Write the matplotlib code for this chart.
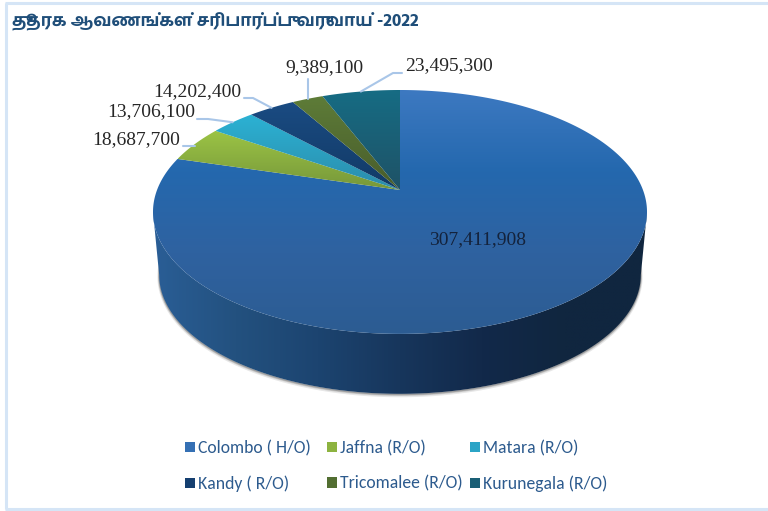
import numpy as np
import matplotlib
matplotlib.use("Agg")
import matplotlib.pyplot as plt
from matplotlib.colors import LinearSegmentedColormap
from matplotlib.path import Path
from matplotlib.patches import PathPatch, Rectangle

title = "தூதரக ஆவணங்கள் சரிபார்ப்பு வருவாய் -2022"
offices = ["Colombo ( H/O)", "Jaffna (R/O)", "Matara (R/O)",
           "Kandy ( R/O)", "Tricomalee (R/O)", "Kurunegala (R/O)"]
revenue = [307411908, 18687700, 13706100, 14202400, 9389100, 23495300]
value_labels = ["307,411,908", "18,687,700", "13,706,100",
                "14,202,400", "9,389,100", "23,495,300"]

slice_stops = [
    ["#3d79c1", "#2468ae", "#2f62a0", "#2c5c92"],
    ["#9cc445", "#76973a"],
    ["#2cb2d4", "#2b8cab"],
    ["#1a4b82", "#123a66"],
    ["#5e7c38", "#485c2b"],
    ["#166c84", "#1f5266"],
]
wall_stops = ["#2a5e96", "#23517f", "#1c4470", "#17365c", "#12294a", "#10263f", "#10263f"]
swatch_colors = ["#3570b4", "#8db340", "#2ba4c6", "#153f70", "#526e31", "#1a5f76"]

W, H = 768, 511
fig = plt.figure(figsize=(W / 100, H / 100), dpi=100, facecolor="white")
ax = fig.add_axes([0, 0, 1, 1])
ax.set_axis_off()
ax.set_xlim(0, W)
ax.set_ylim(H, 0)

CX, AY, RX, K, B = 400.0, 190.0, 247.0, 0.18, 118.0
A = np.sqrt(1 - K ** 2)
EY = AY + B * K / (1 - K ** 2)
DEPTH = 63.0
SHRINK = 0.975


def rim(deg):
    a = np.radians(deg)
    u, v = np.sin(a), np.cos(a)
    return CX + RX * A * u / (1 + K * v), AY - B * v / (1 + K * v)


def base(deg):
    x, y = rim(deg)
    return CX + SHRINK * (x - CX), EY + SHRINK * (y - EY) + DEPTH


def fill_gradient(verts, stops, horizontal=False, z=2):
    verts = np.asarray(verts)
    path = Path(np.vstack([verts, verts[:1]]), closed=True)
    patch = PathPatch(path, facecolor="none", edgecolor="none", zorder=z)
    ax.add_patch(patch)
    cmap = LinearSegmentedColormap.from_list("g", stops)
    ramp = np.linspace(0, 1, 256)
    ramp = ramp[None, :] if horizontal else ramp[:, None]
    x0, y0 = verts.min(axis=0)
    x1, y1 = verts.max(axis=0)
    im = ax.imshow(ramp, cmap=cmap, vmin=0, vmax=1, aspect="auto", zorder=z,
                   extent=(x0, x1, y1, y0), origin="upper", interpolation="bilinear")
    im.set_clip_path(patch)


values = np.asarray(revenue, dtype=float)
edges = np.concatenate([[0], np.cumsum(values) / values.sum() * 360])

# soft shadow below the base
vis = np.linspace(95, 265, 200)
bx, by = base(vis)
for off, lw, alpha in [(1.6, 2.6, 0.14), (1.0, 1.6, 0.22), (0.6, 1.0, 0.35)]:
    ax.plot(bx, by + off, color="#555555", lw=lw, alpha=alpha, zorder=1)

# side wall: only the part of each slice facing the viewer
front_lo = np.degrees(np.arccos(-K))
front_hi = 360 - front_lo
lo, hi = max(edges[0], front_lo), min(edges[1], front_hi)
arc = np.linspace(lo, hi, 200)
tx, ty = rim(arc)
bx, by = base(arc)
fill_gradient(np.c_[np.r_[tx, bx[::-1]], np.r_[ty, by[::-1]]], wall_stops, horizontal=True, z=2)

# top faces
for i in range(len(values)):
    arc = np.linspace(edges[i], edges[i + 1], max(int(edges[i + 1] - edges[i]) * 3, 20))
    x, y = rim(arc)
    verts = np.c_[np.r_[CX, x], np.r_[AY, y]]
    fill_gradient(verts, slice_stops[i], z=3 + i * 0.01)

# data labels
serif = "Liberation Serif"
leader = "#a9c6e8"
label_text_xy = {1: (180, 140), 2: (195, 112), 3: (241, 92), 4: (363, 68), 5: (405, 66)}
label_ha = {1: "right", 2: "right", 3: "right", 4: "right", 5: "left"}
elbows = {1: [(183, 146)], 2: [(208, 119), (197, 119)], 3: [(253, 98), (244, 98)],
          4: [(308, 79)], 5: [(393, 73), (402, 73)]}
mids = (edges[:-1] + edges[1:]) / 2
for i, pts in elbows.items():
    sx, sy = rim(mids[i])
    line = [(float(sx), float(sy))] + pts
    if i == 1:
        line = [(float(sx), pts[0][1])] + pts
    if i == 4:
        line = [(pts[0][0], float(sy))] + pts
    ax.plot(*zip(*line), color=leader, lw=1.5, zorder=5, solid_capstyle="round")
    ax.text(*label_text_xy[i], value_labels[i], ha=label_ha[i], va="center",
            fontsize=14, family=serif, color="#262626", zorder=6)
ax.text(478, 240, value_labels[0], ha="center", va="center", fontsize=14,
        family=serif, color="#14233c", zorder=6)

# title
ax.text(12, 22, title, ha="left", va="center", fontsize=12.4, fontweight="bold",
        family=["Hind Madurai", "Liberation Sans"], color="#1f4e79", zorder=6)

# legend: three independent columns, each with two rows
legend_font = ["Carlito", "Lato"]
columns = [(0, 3, 185), (1, 4, 327), (2, 5, 470)]
for n, (top, bottom, xpos) in enumerate(columns):
    handles = [Rectangle((0, 0), 1, 1, facecolor=swatch_colors[j], edgecolor="none")
               for j in (top, bottom)]
    leg = ax.legend(handles, [offices[top], offices[bottom]], frameon=False,
                    loc="upper left", bbox_to_anchor=(xpos, 440), bbox_transform=ax.transData,
                    prop={"family": legend_font, "size": 12.7}, labelcolor="#2d5b8e",
                    handlelength=0.55, handleheight=0.55, handletextpad=0.2,
                    labelspacing=1.1, borderpad=0, borderaxespad=0)
    if n < len(columns) - 1:
        ax.add_artist(leg)

# outer frame (left, top, bottom only)
frame = "#d5e5f6"
ax.plot([6, 6], [3, 509], color=frame, lw=2.2, zorder=7, solid_capstyle="butt")
ax.plot([5, W], [3, 3], color=frame, lw=2.2, zorder=7, solid_capstyle="butt")
ax.plot([5, W], [509, 509], color=frame, lw=2.2, zorder=7, solid_capstyle="butt")

ax.set_xlim(0, W)
ax.set_ylim(H, 0)
fig.savefig("out.png", dpi=100, facecolor="white")
